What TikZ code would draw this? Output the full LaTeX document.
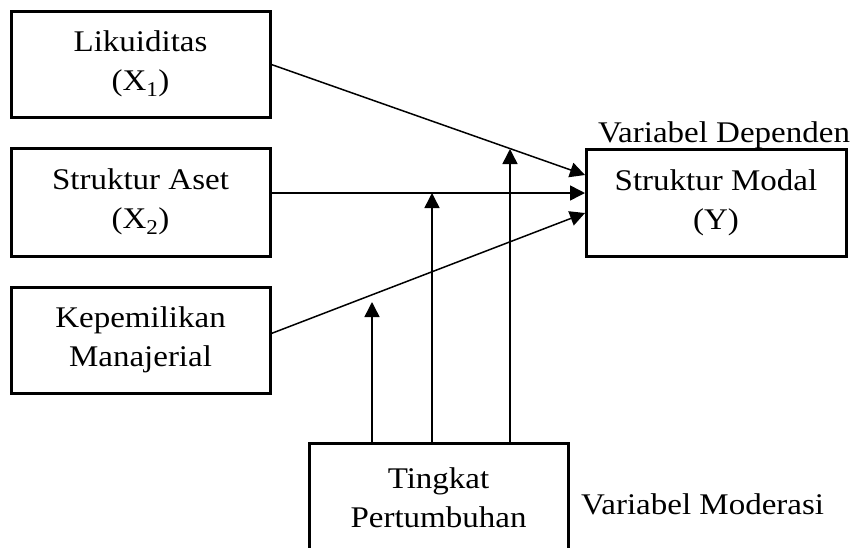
\documentclass[tikz,border=0pt]{standalone}
\usepackage{fontspec}
\setmainfont{Liberation Serif}[FakeStretch=1.1]
\usetikzlibrary{arrows.meta,calc}
\begin{document}
\begin{tikzpicture}[x=1pt,y=-1pt,
  box/.style={draw, line width=3pt, outer sep=0pt, inner sep=0pt, align=center,
    font=\fontsize{30}{39}\selectfont},
  lbl/.style={inner sep=0pt, font=\fontsize{30}{39}\selectfont},
  arr/.style={line width=1.5pt, -{Triangle[length=15pt,width=15pt]}},
  ln/.style={line width=1.5pt}]
\useasboundingbox (0,0) rectangle (857,547);
\clip (0,0) rectangle (857,547);
\node[box, minimum width=259pt, minimum height=106pt] (A) at (140.5,64) {Likuiditas\\(X\textsubscript{1})};
\node[box, minimum width=259pt, minimum height=108pt] (B) at (140.5,202) {Struktur Aset\\(X\textsubscript{2})};
\node[box, minimum width=259pt, minimum height=106pt] (C) at (140.5,340) {Kepemilikan\\Manajerial};
\node[box, minimum width=260pt, minimum height=107pt] (Y) at (716,202.5) {Struktur Modal\\(Y)};
\node[box, minimum width=259pt, minimum height=130pt, anchor=north] (T) at (438.5,443) {};
\node[lbl, align=center] (Ttext) at (438.5,498) {Tingkat\\Pertumbuhan};
\node[lbl, anchor=base] (VD) at (724,142) {Variabel Dependen};
\node[lbl, anchor=base west] (VM) at (581,514) {Variabel Moderasi};
% connector end points
\coordinate (a1) at (270,64);
\coordinate (b1) at (270,193);
\coordinate (c1) at (270,334);
\coordinate (y1) at (585,175);
\coordinate (y2) at (585,193);
\coordinate (y3) at (585,213);
\draw[arr] (a1) -- (y1);
\draw[arr] (b1) -- (y2);
\draw[arr] (c1) -- (y3);
\coordinate (m1) at (372,302);
\coordinate (m2) at (432,193);
\coordinate (m3) at (510,149);
\draw[arr] ($(T.north)+(-66.5,0)$) -- (m1);
\draw[arr] ($(T.north)+(-6.5,0)$) -- (m2);
\draw[arr] ($(T.north)+(71.5,0)$) -- (m3);
\end{tikzpicture}
\end{document}
